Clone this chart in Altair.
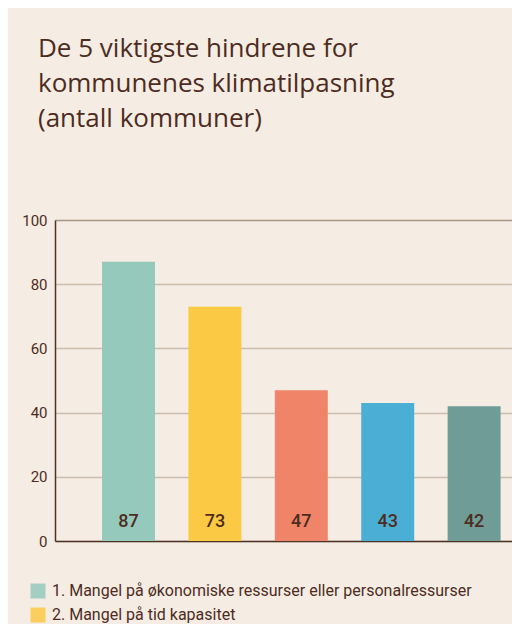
import altair as alt
import pandas as pd

categories = [
    "1. Mangel på økonomiske ressurser eller personalressurser",
    "2. Mangel på tid kapasitet",
    "3.",
    "4.",
    "5.",
]
values = [87, 73, 47, 43, 42]
colors = ["#94c9bc", "#fcc945", "#ef8468", "#4bafd5", "#6f9c96"]
y_ticks = [0, 20, 40, 60, 80, 100]
visible_legend = categories[:2]

title_lines = ["De 5 viktigste hindrene for", "kommunenes klimatilpasning", "(antall kommuner)"]

BROWN = "#4d2c1f"
BG = "#f5ece3"
FONT = "Roboto"

df = pd.DataFrame({"kat": categories, "antall": values})

x_enc = alt.X(
    "kat:N",
    sort=None,
    title=None,
    scale=alt.Scale(paddingInner=0.387, paddingOuter=0.338, align=0.805),
    axis=alt.Axis(labels=False, ticks=False, domainColor="#4d3426", domainWidth=1.5),
)

bars = alt.Chart(df).mark_bar().encode(
    x=x_enc,
    y=alt.Y(
        "antall:Q",
        title=None,
        scale=alt.Scale(domain=[0, 100], nice=False),
        axis=alt.Axis(
            values=y_ticks,
            ticks=False,
            labelPadding=8,
            labelFontSize=15,
            labelColor=BROWN,
            labelFont=FONT,
            domainColor="#4d3426",
            domainWidth=1.5,
            gridColor={"condition": {"test": "datum.value == 100", "value": "#a89585"}, "value": "#cbbcb0"},
            gridWidth=1.5,
        ),
    ),
    color=alt.Color(
        "kat:N",
        sort=None,
        scale=alt.Scale(domain=categories, range=colors),
        legend=alt.Legend(
            title=None,
            values=visible_legend,
            orient="none",
            legendX=-25,
            legendY=363,
            padding=0,
            symbolType="square",
            symbolSize=225,
            symbolStrokeWidth=0,
            symbolOpacity=0.85,
            labelFontSize=16,
            labelFont=FONT,
            labelColor=BROWN,
            labelOffset=6,
            labelLimit=600,
            rowPadding=8,
        ),
    ),
)

labels = alt.Chart(df).mark_text(
    baseline="alphabetic",
    dy=-14,
    fontSize=18,
    fontWeight=500,
    font=FONT,
    color=BROWN,
).encode(
    x=alt.X("kat:N", sort=None),
    y=alt.datum(0),
    text=alt.Text("antall:Q"),
)

chart = (
    alt.layer(bars, labels)
    .properties(
        width=457,
        height=321,
        background=BG,
        autosize=alt.AutoSizeParams(type="none"),
        padding={"left": 47, "top": 212, "right": 0, "bottom": 83},
        title=alt.TitleParams(
            text=title_lines,
            anchor="start",
            frame="group",
            dx=-17,
            offset=81,
            fontSize=26,
            font="Open Sans",
            fontWeight="normal",
            color=BROWN,
            lineHeight=35,
        ),
    )
    .configure_view(stroke=None)
)

chart.save("out.html", embed_options={"renderer": "svg", "actions": False})
